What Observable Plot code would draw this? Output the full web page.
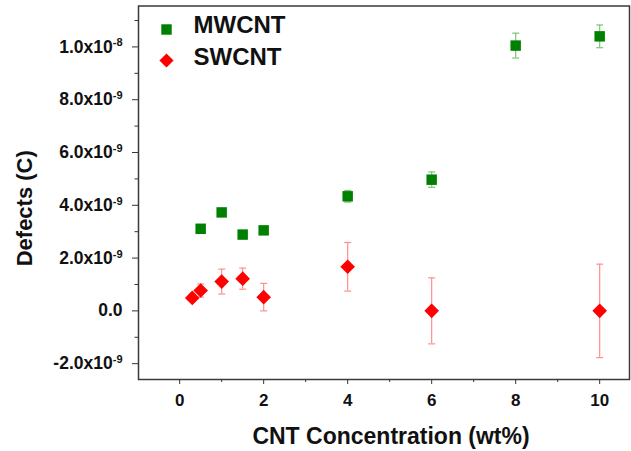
<!DOCTYPE html>
<html><head><meta charset="utf-8">
<script src="https://cdn.jsdelivr.net/npm/d3@7"></script>
<script src="https://cdn.jsdelivr.net/npm/@observablehq/plot@0.6"></script>
<style>body{margin:0;background:#fff}</style>
</head><body><div id="chart"></div>
<script>
// ---- data ----
const seriesNames = ["MWCNT", "SWCNT"];
const seriesColors = ["#008000", "#ff0000"];
const errorColors = ["#7cc47c", "#ff8f8f"];
const seriesSymbols = ["square", "diamond2"];

const mwConcentration = [0.5, 1, 1.5, 2, 4, 6, 8, 10];
const mwDefects = [3.11e-9, 3.73e-9, 2.89e-9, 3.05e-9, 4.34e-9, 4.97e-9, 1.005e-8, 1.04e-8];
const mwError   = [0.08e-9, 0.08e-9, 0.08e-9, 0.08e-9, 0.22e-9, 0.29e-9, 0.47e-9, 0.43e-9];

const swConcentration = [0.3, 0.5, 1, 1.5, 2, 4, 6, 10];
const swDefects = [0.49e-9, 0.77e-9, 1.11e-9, 1.22e-9, 0.52e-9, 1.67e-9, 0, 0];
const swError   = [0.10e-9, 0.25e-9, 0.47e-9, 0.40e-9, 0.52e-9, 0.92e-9, 1.25e-9, 1.77e-9];

const xTicks = [0, 2, 4, 6, 8, 10];
const xMinorTicks = [1, 3, 5, 7, 9];
const yTicks = [-2e-9, 0, 2e-9, 4e-9, 6e-9, 8e-9, 1e-8];
const yMinorTicks = [-1e-9, 1e-9, 3e-9, 5e-9, 7e-9, 9e-9, 1.1e-8];

const xTitle = "CNT Concentration (wt%)";
const yTitle = "Defects (C)";

// ---- build tables ----
const toRows = (xs, ys, es) => xs.map((x, i) => ({x, y: ys[i], lo: ys[i] - es[i], hi: ys[i] + es[i]}));
const seriesRows = [toRows(mwConcentration, mwDefects, mwError), toRows(swConcentration, swDefects, swError)];

const supMap = {"-": "⁻", "0": "⁰", "1": "¹", "2": "²", "3": "³", "4": "⁴", "5": "⁵", "6": "⁶", "7": "⁷", "8": "⁸", "9": "⁹"};
function fmtY(v) {
  if (Math.abs(v) < 1e-15) return "0.0";
  const [m, e] = v.toExponential(1).split("e");
  return m + "x10" + [...String(+e)].map(c => supMap[c]).join("");
}

const capSymbol = {
  draw(ctx, size) { const w = Math.sqrt(size / Math.PI); ctx.moveTo(-w, 0); ctx.lineTo(w, 0); }
};

const font = "'Liberation Sans', Arial, sans-serif";
const marks = [
  Plot.axisX(xTicks, {tickSize: 5, tickPadding: 9, fontSize: 17, fontWeight: "bold", label: null, stroke: "#333", fill: "#111"}),
  Plot.axisX(xMinorTicks, {tickSize: 3, tickFormat: () => "", label: null, stroke: "#333"}),
  Plot.axisY(yTicks, {tickSize: 6, tickPadding: 10, fontSize: 17.5, fontWeight: "bold", tickFormat: fmtY, label: null, stroke: "#333", fill: "#111"}),
  Plot.axisY(yMinorTicks, {tickSize: 3.5, tickFormat: () => "", label: null, stroke: "#333"}),
  Plot.frame({stroke: "#3a3a3a", strokeWidth: 1.5})
];

seriesRows.forEach((rows, i) => {
  marks.push(
    Plot.ruleX(rows, {x: "x", y1: "lo", y2: "hi", stroke: errorColors[i], strokeWidth: 1.2}),
    Plot.dot(rows, {x: "x", y: "hi", symbol: capSymbol, r: 3.5, fill: "none", stroke: errorColors[i], strokeWidth: 1.2}),
    Plot.dot(rows, {x: "x", y: "lo", symbol: capSymbol, r: 3.5, fill: "none", stroke: errorColors[i], strokeWidth: 1.2})
  );
});
seriesRows.forEach((rows, i) => {
  marks.push(Plot.dot(rows, {x: "x", y: "y", symbol: seriesSymbols[i], r: i === 0 ? 5.9 : 6.6, fill: seriesColors[i], stroke: "none"}));
});

// legend inside the frame
seriesNames.forEach((name, i) => {
  marks.push(
    Plot.dot([name], {frameAnchor: "top-left", dx: 28, dy: 23.5 + i * 31, symbol: seriesSymbols[i], r: i === 0 ? 5.9 : 6.4, fill: seriesColors[i]}),
    Plot.text([name], {frameAnchor: "top-left", dx: 55, dy: 19.5 + i * 31.5, text: d => d, textAnchor: "start", lineAnchor: "middle", fontSize: 24, fontWeight: "bold", fill: "#111"})
  );
});

// axis titles
marks.push(
  Plot.text([xTitle], {frameAnchor: "bottom", dx: 7, dy: 57, text: d => d, textAnchor: "middle", lineAnchor: "middle", fontSize: 23, fontWeight: "bold", fill: "#111"}),
  Plot.text([yTitle], {frameAnchor: "left", dx: -114, dy: 15.5, rotate: -90, text: d => d, textAnchor: "middle", lineAnchor: "middle", fontSize: 22, fontWeight: "bold", fill: "#111"})
);

const chart = Plot.plot({
  width: 631,
  height: 451,
  marginLeft: 138,
  marginRight: 2,
  marginTop: 5.5,
  marginBottom: 72,
  x: {domain: [-0.98, 10.71]},
  y: {domain: [-2.6e-9, 11.55e-9]},
  style: {fontFamily: font, fontWeight: "bold", background: "#fff", color: "#111"},
  marks
});

// render exponents as raised tspans
const revSup = Object.fromEntries(Object.entries(supMap).map(([k, v]) => [v, k]));
chart.querySelectorAll("text").forEach(t => {
  const s = t.textContent;
  const m = /^(.*x10)([⁻⁰¹²³⁴⁵⁶⁷⁸⁹]+)$/.exec(s);
  if (!m) return;
  t.textContent = "";
  const ns = "http://www.w3.org/2000/svg";
  const a = document.createElementNS(ns, "tspan");
  a.textContent = m[1];
  const b = document.createElementNS(ns, "tspan");
  b.textContent = [...m[2]].map(c => revSup[c]).join("");
  b.setAttribute("font-size", "11");
  b.setAttribute("dy", "-0.55em");
  t.appendChild(a); t.appendChild(b);
});

document.getElementById("chart").appendChild(chart);
</script>
</body></html>
